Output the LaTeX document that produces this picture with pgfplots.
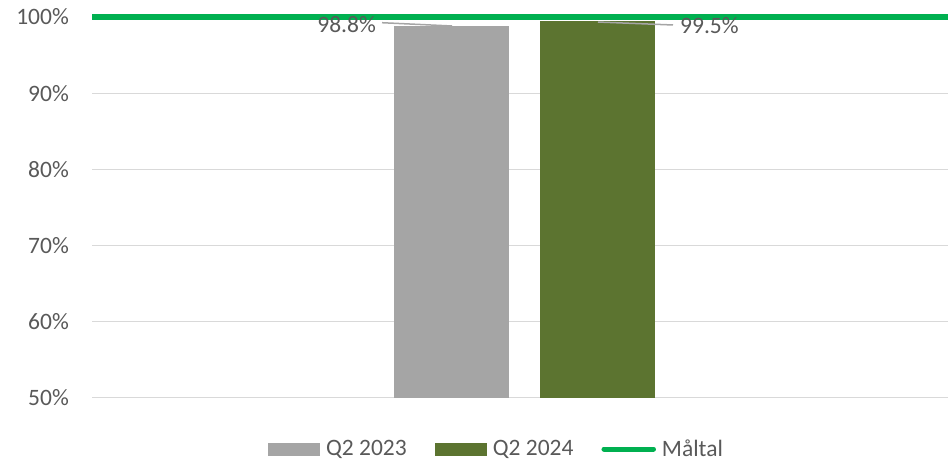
\documentclass[border=0pt]{standalone}
\usepackage{fontspec}
\setmainfont{Carlito}
\usepackage{pgfplots}
\pgfplotsset{compat=1.18}
\definecolor{barGray}{HTML}{A5A5A5}
\definecolor{barGreen}{HTML}{5C7430}
\definecolor{targetGreen}{HTML}{00B050}
\definecolor{textGray}{HTML}{595959}
\definecolor{gridGray}{HTML}{D9D9D9}
\begin{document}
\begin{tikzpicture}
\begin{axis}[
  at={(92pt,64pt)}, anchor=south west,
  scale only axis, width=856pt, height=381pt,
  xmin=92, xmax=948, ymin=50, ymax=100,
  clip=false,
  axis line style={draw=none},
  xtick=\empty,
  ytick={50,60,70,80,90,100},
  ymajorgrids, grid style={gridGray, line width=1pt},
  major tick length=0pt,
  /pgf/number format/assume math mode=true,
  yticklabel={\pgfmathprintnumber{\tick}\%},
  yticklabel style={anchor=east, inner sep=0pt, xshift=-23pt, text=textGray, font=\fontsize{23.5}{27}\selectfont},
  legend columns=3,
  legend style={at={(0.4726,-0.134)}, anchor=center, draw=none, fill=none,
    text=textGray, font=\fontsize{23.5}{27}\selectfont,
    /tikz/every odd column/.append style={column sep=4pt},
    /tikz/every even column/.append style={column sep=26pt}},
]
\addplot[fill=barGray, draw=none,
  legend image code/.code={\fill[barGray] (0pt,-6.5pt) rectangle (52pt,6.5pt);}]
  coordinates {(394,50) (394,98.8) (509,98.8) (509,50)} -- cycle;
\addlegendentry{Q2 2023}
\addplot[fill=barGreen, draw=none,
  legend image code/.code={\fill[barGreen] (0pt,-6.5pt) rectangle (52pt,6.5pt);}]
  coordinates {(540,50) (540,99.5) (655,99.5) (655,50)} -- cycle;
\addlegendentry{Q2 2024}
\addplot[targetGreen, line width=6pt, mark=none,
  legend image code/.code={\draw[targetGreen, line width=5pt, line cap=round] (2.5pt,0pt) -- (52pt,0pt);}]
  coordinates {(92,100) (948,100)};
\addlegendentry{Måltal}
\draw[barGray, line width=1.5pt] (axis cs:382,99.25) -- (axis cs:452,98.82);
\draw[barGray, line width=1.5pt] (axis cs:598,99.34) -- (axis cs:673,98.95);
\node[anchor=east, inner sep=0pt, text=textGray, font=\fontsize{23.5}{27}\selectfont] at (axis cs:376,98.95) {98.8\%};
\node[anchor=west, inner sep=0pt, text=textGray, font=\fontsize{23.5}{27}\selectfont] at (axis cs:680,98.82) {99.5\%};
\end{axis}
\pgfresetboundingbox
\path[use as bounding box] (0pt,0pt) rectangle (948pt,462pt);
\end{tikzpicture}
\end{document}
